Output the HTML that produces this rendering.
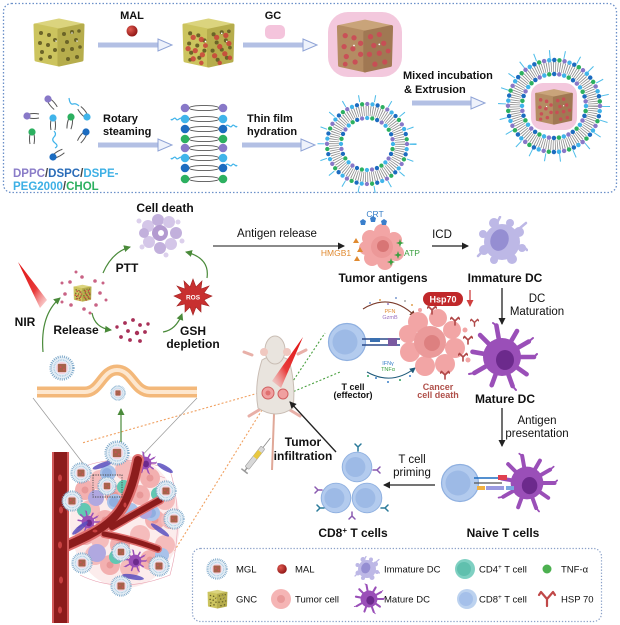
<!DOCTYPE html>
<html><head><meta charset="utf-8"><style>
html,body{margin:0;padding:0;background:#fff;}
svg{display:block;}
text{font-family:"Liberation Sans",Arial,sans-serif;fill:#111;}
.b{font-weight:bold;}
</style></head><body>
<svg width="620" height="625" viewBox="0 0 620 625" xmlns="http://www.w3.org/2000/svg">
<defs>
 <marker id="ak" markerWidth="8" markerHeight="8" refX="6" refY="4" orient="auto" markerUnits="userSpaceOnUse"><path d="M0,0.5 L7,4 L0,7.5 Z" fill="#222"/></marker>
 <marker id="ag" markerWidth="8" markerHeight="8" refX="6" refY="4" orient="auto" markerUnits="userSpaceOnUse"><path d="M0,0.5 L7,4 L0,7.5 Z" fill="#4a8a3a"/></marker>
 <marker id="ar" markerWidth="8" markerHeight="8" refX="6" refY="4" orient="auto" markerUnits="userSpaceOnUse"><path d="M0,0.5 L7,4 L0,7.5 Z" fill="#d04040"/></marker>
 <marker id="abr" markerWidth="7" markerHeight="7" refX="5" refY="3.5" orient="auto" markerUnits="userSpaceOnUse"><path d="M0,0.5 L6,3.5 L0,6.5 Z" fill="#7a3a2a"/></marker>
 <marker id="atl" markerWidth="7" markerHeight="7" refX="5" refY="3.5" orient="auto" markerUnits="userSpaceOnUse"><path d="M0,0.5 L6,3.5 L0,6.5 Z" fill="#1f5a7a"/></marker>
 <linearGradient id="beam1" x1="0" y1="0" x2="1" y2="1"><stop offset="0" stop-color="#e01010"/><stop offset="0.6" stop-color="#e83a3a"/><stop offset="1" stop-color="#f7b0b0" stop-opacity="0.4"/></linearGradient>
 <linearGradient id="beam2" x1="1" y1="0" x2="0" y2="1"><stop offset="0" stop-color="#e01010"/><stop offset="0.6" stop-color="#e83a3a"/><stop offset="1" stop-color="#f7b0b0" stop-opacity="0.3"/></linearGradient>
 <radialGradient id="redball" cx="0.35" cy="0.35" r="0.7"><stop offset="0" stop-color="#e05a50"/><stop offset="1" stop-color="#8e1414"/></radialGradient>

 <symbol id="cubeY" viewBox="0 0 54 50">
  <g stroke-linejoin="round" stroke-width="3">
   <polygon points="3,8 27,3 51,8 27,13" fill="#dbd47e" stroke="#dbd47e"/>
   <polygon points="3,8 27,13 27,48 4,43" fill="#ccc45e" stroke="#ccc45e"/>
   <polygon points="27,13 51,8 50,43 27,48" fill="#b6ad4c" stroke="#b6ad4c"/>
  </g>
  <g fill="#6b6428">
   <circle cx="9" cy="16" r="2"/><circle cx="17" cy="18" r="2"/><circle cx="23" cy="23" r="2"/><circle cx="8" cy="26" r="2"/><circle cx="16" cy="28" r="2"/><circle cx="23" cy="33" r="2"/><circle cx="10" cy="35" r="2"/><circle cx="18" cy="40" r="2"/><circle cx="9" cy="42" r="1.8"/>
   <circle cx="32" cy="17" r="2"/><circle cx="40" cy="15" r="2"/><circle cx="47" cy="14" r="1.8"/><circle cx="35" cy="25" r="2"/><circle cx="44" cy="23" r="2"/><circle cx="31" cy="33" r="2"/><circle cx="40" cy="32" r="2"/><circle cx="48" cy="30" r="1.8"/><circle cx="36" cy="42" r="2"/><circle cx="45" cy="40" r="2"/>
  </g>
  <g fill="#fff"><circle cx="24" cy="24" r="0.8"/><circle cx="40" cy="16" r="0.8"/><circle cx="45" cy="24" r="0.8"/></g>
 </symbol>

 <symbol id="cubeM" viewBox="0 0 54 50">
  <use href="#cubeY" x="0" y="0" width="54" height="50"/>
  <g fill="#c9413a" opacity="0.85">
   <circle cx="12" cy="20" r="2.6"/><circle cx="20" cy="22" r="2.6"/><circle cx="7" cy="31" r="2.6"/><circle cx="14" cy="33" r="2.6"/><circle cx="21" cy="37" r="2.6"/><circle cx="12" cy="41" r="2.6"/><circle cx="24" cy="28" r="2.4"/><circle cx="20" cy="45" r="2.2"/>
   <circle cx="35" cy="20" r="2.6"/><circle cx="44" cy="18" r="2.6"/><circle cx="38" cy="29" r="2.6"/><circle cx="47" cy="26" r="2.6"/><circle cx="33" cy="38" r="2.6"/><circle cx="43" cy="36" r="2.6"/><circle cx="48" cy="40" r="2.2"/><circle cx="38" cy="45" r="2.2"/>
  </g>
 </symbol>

 <symbol id="cubeB" viewBox="0 0 54 50">
  <g stroke-linejoin="round" stroke-width="3">
   <polygon points="3,8 27,3 51,8 27,13" fill="#c9a47a" stroke="#c9a47a"/>
   <polygon points="3,8 27,13 27,48 4,43" fill="#b48c63" stroke="#b48c63"/>
   <polygon points="27,13 51,8 50,43 27,48" fill="#a07853" stroke="#a07853"/>
  </g>
  <g fill="#cc4a56" opacity="0.9">
   <circle cx="9" cy="16" r="2.4"/><circle cx="17" cy="18" r="2.4"/><circle cx="23" cy="23" r="2.4"/><circle cx="8" cy="26" r="2.4"/><circle cx="16" cy="28" r="2.4"/><circle cx="23" cy="33" r="2.4"/><circle cx="10" cy="35" r="2.4"/><circle cx="18" cy="40" r="2.4"/><circle cx="9" cy="42" r="2.2"/>
   <circle cx="32" cy="17" r="2.4"/><circle cx="40" cy="15" r="2.4"/><circle cx="35" cy="25" r="2.4"/><circle cx="44" cy="23" r="2.4"/><circle cx="31" cy="33" r="2.4"/><circle cx="40" cy="32" r="2.4"/><circle cx="48" cy="30" r="2.2"/><circle cx="36" cy="42" r="2.4"/><circle cx="45" cy="40" r="2.4"/>
  </g>
  <g fill="#fff"><circle cx="17" cy="25" r="0.8"/><circle cx="40" cy="24" r="0.8"/></g>
 </symbol>

 <symbol id="mgl" viewBox="-14 -14 28 28">
  <circle r="12.3" fill="#e3edf5" stroke="#7aa6c8" stroke-width="2.6" stroke-dasharray="1 1.3"/>
  <circle r="8.6" fill="none" stroke="#9cc0dc" stroke-width="1.4" stroke-dasharray="0.8 1"/>
  <circle r="6.6" fill="#f5d3df"/>
  <rect x="-4.5" y="-4.5" width="9" height="9" rx="1" fill="#a5634a"/>
  <circle cx="-1.5" cy="-1" r="1" fill="#d0505a"/><circle cx="2" cy="1.5" r="1" fill="#d0505a"/>
 </symbol>

 <symbol id="imDC" viewBox="-26 -26 52 52">
  <g fill="#bdb8e6">
   <circle r="18"/>
   <circle cx="17" cy="-10" r="5"/><circle cx="20" cy="6" r="4"/><circle cx="10" cy="17" r="5"/><circle cx="-8" cy="18" r="4"/><circle cx="-18" cy="8" r="5"/><circle cx="-19" cy="-8" r="4"/><circle cx="-8" cy="-19" r="5"/><circle cx="8" cy="-19" r="4"/>
  </g>
  <g stroke="#bdb8e6" stroke-width="2.5" stroke-linecap="round"><line x1="18" y1="-14" x2="24" y2="-19"/><line x1="21" y1="4" x2="25" y2="8"/><line x1="-20" y1="10" x2="-24" y2="14"/><line x1="-4" y1="-21" x2="-2" y2="-25"/></g>
  <ellipse cx="-3" cy="-1" rx="9" ry="11" fill="#958ed2" transform="rotate(20)"/>
 </symbol>

 <symbol id="mDC" viewBox="-36 -36 72 72">
  <g stroke="#9a4fb8" stroke-width="4.6" stroke-linecap="round">
   <line x1="0" y1="0" x2="32" y2="0"/><line x1="0" y1="0" x2="24.6" y2="17.2"/><line x1="0" y1="0" x2="10.6" y2="29.1"/><line x1="0" y1="0" x2="-10.3" y2="28.2"/><line x1="0" y1="0" x2="-27.7" y2="16"/><line x1="0" y1="0" x2="-29.5" y2="-5.2"/><line x1="0" y1="0" x2="-21.9" y2="-21.9"/><line x1="0" y1="0" x2="-5.6" y2="-31.5"/><line x1="0" y1="0" x2="15" y2="-26"/><line x1="0" y1="0" x2="26.8" y2="-15.5"/>
  </g>
  <g stroke="#9a4fb8" stroke-width="2" stroke-linecap="round">
   <line x1="32" y1="0" x2="35" y2="-3"/><line x1="10.6" y1="29.1" x2="14" y2="33"/><line x1="-27.7" y1="16" x2="-33" y2="17"/><line x1="-5.6" y1="-31.5" x2="-9" y2="-34"/><line x1="26.8" y1="-15.5" x2="31" y2="-19"/>
  </g>
  <circle r="19" fill="#9a4fb8"/>
  <ellipse cx="3" cy="3" rx="9" ry="10" fill="#6c2a8c"/>
 </symbol>

 <symbol id="tcell" viewBox="-20 -20 40 40">
  <circle r="18.5" fill="#b3cbee" stroke="#8fb0e0" stroke-width="1.2"/>
  <circle cx="-2" r="12.5" fill="#9dbae6"/>
 </symbol>

 <symbol id="hsp" viewBox="-5 -9 10 10">
  <path d="M0,0 L0,-4 M0,-4 L-3.5,-7.5 M0,-4 L3.5,-7.5 M-3.5,-7.5 L-4.5,-6 M3.5,-7.5 L4.5,-6" stroke="#b04848" stroke-width="1.6" fill="none" stroke-linecap="round"/>
 </symbol>
</defs>

<rect width="620" height="625" fill="#fff"/>

<!-- ================= TOP BOX ================= -->
<rect x="3.5" y="3.5" width="613" height="189" rx="8" fill="none" stroke="#6a8fc8" stroke-width="1.3" stroke-dasharray="1.5 2"/>

<g>
 <rect x="98" y="42.5" width="60" height="5" fill="#b3c0e4"/><polygon points="158,39 172,45 158,51" fill="#eef2fb" stroke="#8fa3d6" stroke-width="1"/>
 <rect x="243" y="42.5" width="60" height="5" fill="#b3c0e4"/><polygon points="303,39 317,45 303,51" fill="#eef2fb" stroke="#8fa3d6" stroke-width="1"/>
 <rect x="98" y="142.5" width="60" height="5" fill="#b3c0e4"/><polygon points="158,139 172,145 158,151" fill="#eef2fb" stroke="#8fa3d6" stroke-width="1"/>
 <rect x="242" y="142.5" width="59" height="5" fill="#b3c0e4"/><polygon points="301,139 315,145 301,151" fill="#eef2fb" stroke="#8fa3d6" stroke-width="1"/>
 <rect x="412" y="100.5" width="59" height="5" fill="#b3c0e4"/><polygon points="471,97 485,103 471,109" fill="#eef2fb" stroke="#8fa3d6" stroke-width="1"/>
</g>

<use href="#cubeY" x="32" y="17" width="54" height="50"/>
<text x="132" y="19" text-anchor="middle" class="b" font-size="11">MAL</text>
<circle cx="132" cy="31" r="5.5" fill="url(#redball)"/>
<use href="#cubeM" x="180" y="17" width="57" height="51"/>
<text x="273" y="19" text-anchor="middle" class="b" font-size="11">GC</text>
<rect x="265" y="25" width="20" height="14" rx="5" fill="#f4c4dc"/>
<rect x="328" y="12" width="74" height="65" rx="20" fill="#f3c8dd"/>
<use href="#cubeB" x="335" y="18" width="60" height="55"/>

<text x="403" y="79" class="b" font-size="11">Mixed incubation</text>
<text x="404" y="93" class="b" font-size="11">&amp; Extrusion</text>

<g stroke="#555" stroke-width="1" fill="none">
 <g transform="translate(48,99) rotate(-40)"><path d="M-2,2 Q-3,7 -2,12 M2,2 Q3,7 2,12"/></g>
 <g transform="translate(27,116) rotate(-90)"><path d="M-2,2 Q-3,7 -2,12 M2,2 Q3,7 2,12"/></g>
 <g transform="translate(53,118) rotate(0)"><path d="M-2,2 Q-3,7 -2,12 M2,2 Q3,7 2,12"/></g>
 <g transform="translate(71,117) rotate(10)"><path d="M-2,2 Q-3,7 -2,12 M2,2 Q3,7 2,12"/></g>
 <g transform="translate(87,117) rotate(140)"><path d="M-2,2 Q-3,7 -2,12 M2,2 Q3,7 2,12"/></g>
 <g transform="translate(32,132) rotate(0)"><path d="M-2,2 Q-3,7 -2,12 M2,2 Q3,7 2,12"/></g>
 <g transform="translate(86,132) rotate(35)"><path d="M-2,2 Q-3,7 -2,12 M2,2 Q3,7 2,12"/></g>
 <g transform="translate(53,157) rotate(-120)"><path d="M-2,2 Q-3,7 -2,12 M2,2 Q3,7 2,12"/></g>
</g>
<g stroke="#40b4ea" stroke-width="1.2" fill="none">
 <path d="M54,131 q3,3 0,6 t1,6 t0,5"/>
 <path d="M79,106 q-3,-3 -6,-2 t-4,-6"/>
</g>
<g>
 <circle cx="48" cy="99" r="3.6" fill="#8878c8"/><circle cx="27" cy="116" r="3.6" fill="#8878c8"/>
 <circle cx="53" cy="118" r="3.6" fill="#40b4ea"/><circle cx="71" cy="117" r="3.6" fill="#2cb060"/>
 <circle cx="87" cy="117" r="3.6" fill="#40b4ea"/><circle cx="32" cy="132" r="3.6" fill="#2cb060"/>
 <circle cx="86" cy="132" r="3.6" fill="#1c6cc0"/><circle cx="53" cy="157" r="3.6" fill="#1c6cc0"/>
</g>
<text x="13" y="177" class="b" font-size="11.5"><tspan style="fill:#8a7cc8">DPPC</tspan><tspan style="fill:#444">/</tspan><tspan style="fill:#2a6cb8">DSPC</tspan><tspan style="fill:#444">/</tspan><tspan style="fill:#3db0e5">DSPE-</tspan></text>
<text x="13" y="190" class="b" font-size="11.5"><tspan style="fill:#3db0e5">PEG2000</tspan><tspan style="fill:#444">/</tspan><tspan style="fill:#2db060">CHOL</tspan></text>

<text x="103" y="122" class="b" font-size="11">Rotary</text>
<text x="103" y="135" class="b" font-size="11">steaming</text>
<text x="247" y="122" class="b" font-size="11">Thin film</text>
<text x="247" y="135" class="b" font-size="11">hydration</text>

<g fill="none" stroke="#555" stroke-width="0.9">
 <ellipse cx="204" cy="108" rx="15" ry="2.6"/><ellipse cx="204" cy="119" rx="15" ry="2.6"/><ellipse cx="204" cy="129" rx="15" ry="2.6"/><ellipse cx="204" cy="139" rx="15" ry="2.6"/>
 <ellipse cx="204" cy="148" rx="15" ry="2.6"/><ellipse cx="204" cy="158" rx="15" ry="2.6"/><ellipse cx="204" cy="168" rx="15" ry="2.6"/><ellipse cx="204" cy="179" rx="15" ry="2.6"/>
</g>
<g stroke="#40b4ea" stroke-width="1.2" fill="none">
 <path d="M182,119 c-2,-3 -4,3 -6,0 s-4,3 -5,0"/><path d="M182,158 c-2,-3 -4,3 -6,0 s-4,3 -5,0"/>
 <path d="M226,126 c2,-3 4,3 6,0 s4,3 5,0"/><path d="M226,165 c2,-3 4,3 6,0 s4,3 5,0"/>
</g>
<g>
 <circle cx="185" cy="108" r="4.3" fill="#8878c8"/><circle cx="223" cy="108" r="4.3" fill="#8878c8"/>
 <circle cx="185" cy="119" r="4.3" fill="#40b4ea"/><circle cx="223" cy="119" r="4.3" fill="#40b4ea"/>
 <circle cx="185" cy="129" r="4.3" fill="#1c6cc0"/><circle cx="223" cy="129" r="4.3" fill="#1c6cc0"/>
 <circle cx="185" cy="139" r="4.3" fill="#2cb060"/><circle cx="223" cy="139" r="4.3" fill="#2cb060"/>
 <circle cx="185" cy="148" r="4.3" fill="#8878c8"/><circle cx="223" cy="148" r="4.3" fill="#8878c8"/>
 <circle cx="185" cy="158" r="4.3" fill="#40b4ea"/><circle cx="223" cy="158" r="4.3" fill="#40b4ea"/>
 <circle cx="185" cy="168" r="4.3" fill="#1c6cc0"/><circle cx="223" cy="168" r="4.3" fill="#1c6cc0"/>
 <circle cx="185" cy="179" r="4.3" fill="#2cb060"/><circle cx="223" cy="179" r="4.3" fill="#2cb060"/>
</g>

<!-- vesicle -->
<g transform="translate(367,144)" fill="none">
 <circle r="46" stroke="#4fbde9" stroke-width="7" stroke-dasharray="1 15"/>
 <circle r="33" stroke="#8c8c8c" stroke-width="10" stroke-dasharray="0.8 1.4"/>
 <g stroke-width="4.3" stroke-linecap="round">
  <circle r="40" stroke="#8878c8" stroke-dasharray="0 20.944"/>
  <circle r="40" stroke="#40b4ea" stroke-dasharray="0 20.944" stroke-dashoffset="-5.236"/>
  <circle r="40" stroke="#1c6cc0" stroke-dasharray="0 20.944" stroke-dashoffset="-10.472"/>
  <circle r="40" stroke="#2cb060" stroke-dasharray="0 20.944" stroke-dashoffset="-15.708"/>
  <circle r="26" stroke="#40b4ea" stroke-dasharray="0 20.42"/>
  <circle r="26" stroke="#2cb060" stroke-dasharray="0 20.42" stroke-dashoffset="-5.105"/>
  <circle r="26" stroke="#1c6cc0" stroke-dasharray="0 20.42" stroke-dashoffset="-10.21"/>
  <circle r="26" stroke="#8878c8" stroke-dasharray="0 20.42" stroke-dashoffset="-15.315"/>
 </g>
</g>

<!-- final MGL -->
<g transform="translate(554,106)" fill="none">
 <circle r="52" stroke="#4fbde9" stroke-width="8" stroke-dasharray="1 14"/>
 <circle r="39" stroke="#8c8c8c" stroke-width="10" stroke-dasharray="0.8 1.4"/>
 <g stroke-width="4.5" stroke-linecap="round">
  <circle r="46" stroke="#8878c8" stroke-dasharray="0 20.645"/>
  <circle r="46" stroke="#40b4ea" stroke-dasharray="0 20.645" stroke-dashoffset="-5.161"/>
  <circle r="46" stroke="#1c6cc0" stroke-dasharray="0 20.645" stroke-dashoffset="-10.322"/>
  <circle r="46" stroke="#2cb060" stroke-dasharray="0 20.645" stroke-dashoffset="-15.483"/>
  <circle r="32" stroke="#40b4ea" stroke-dasharray="0 20.106"/>
  <circle r="32" stroke="#2cb060" stroke-dasharray="0 20.106" stroke-dashoffset="-5.027"/>
  <circle r="32" stroke="#1c6cc0" stroke-dasharray="0 20.106" stroke-dashoffset="-10.053"/>
  <circle r="32" stroke="#8878c8" stroke-dasharray="0 20.106" stroke-dashoffset="-15.08"/>
 </g>
</g>
<rect x="531" y="83" width="46" height="47" rx="12" fill="#f3c8dd"/>
<use href="#cubeB" x="534" y="87" width="40" height="39"/>

<!-- ================= MIDDLE / BOTTOM ================= -->
<g fill="none" stroke-width="1.1" stroke-dasharray="2 2">
 <line x1="262" y1="392" x2="82" y2="443" stroke="#f0a060"/>
 <line x1="262" y1="410" x2="173" y2="553" stroke="#f0a060"/>
 <line x1="287" y1="390" x2="325" y2="333" stroke="#4aa040"/>
 <line x1="290" y1="393" x2="340" y2="372" stroke="#4aa040"/>
</g>

<text x="165" y="212" text-anchor="middle" class="b" font-size="12">Cell death</text>
<g>
 <circle cx="148" cy="226" r="6" fill="#d4c6e8"/><circle cx="158" cy="220" r="6" fill="#c2b0dc"/><circle cx="169" cy="222" r="6" fill="#d4c6e8"/><circle cx="176" cy="233" r="6" fill="#c2b0dc"/><circle cx="171" cy="244" r="6" fill="#d4c6e8"/><circle cx="160" cy="248" r="6" fill="#c2b0dc"/><circle cx="149" cy="242" r="6" fill="#d4c6e8"/><circle cx="144" cy="233" r="5" fill="#c2b0dc"/>
 <circle cx="160" cy="233" r="8" fill="#b39ad0"/><circle cx="161" cy="233" r="3" fill="#fff"/>
 <circle cx="139" cy="221" r="2.5" fill="#dcd0ec"/><circle cx="182" cy="241" r="2.5" fill="#dcd0ec"/><circle cx="166" cy="255" r="2.5" fill="#dcd0ec"/><circle cx="178" cy="222" r="2.5" fill="#dcd0ec"/><circle cx="142" cy="247" r="2.5" fill="#dcd0ec"/>
</g>

<line x1="213" y1="246" x2="344" y2="246" stroke="#444" stroke-width="1.3" marker-end="url(#ak)"/>
<text x="277" y="237" text-anchor="middle" font-size="11.5">Antigen release</text>

<g>
 <circle cx="370" cy="238" r="8" fill="#f2a5a5"/><circle cx="382" cy="232" r="8" fill="#f2a5a5"/><circle cx="394" cy="240" r="8" fill="#f2a5a5"/><circle cx="396" cy="253" r="8" fill="#f2a5a5"/><circle cx="385" cy="262" r="8" fill="#f2a5a5"/><circle cx="372" cy="258" r="8" fill="#f2a5a5"/><circle cx="366" cy="248" r="7" fill="#f2a5a5"/>
 <circle cx="382" cy="247" r="11" fill="#ec9898"/><circle cx="383" cy="246" r="6" fill="#d87575"/>
 <polygon points="363,219 366,221 365,225 361,225 360,221" fill="#3a7fcc"/><polygon points="373,216 376,218 375,222 371,222 370,218" fill="#3a7fcc"/><polygon points="384,219 387,221 386,225 382,225 381,221" fill="#3a7fcc"/>
 <polygon points="356,238 359,243 353,243" fill="#e08a30"/><polygon points="360,247 363,252 357,252" fill="#e08a30"/><polygon points="357,256 360,261 354,261" fill="#e08a30"/>
 <path d="M400,239 l1,3 3,1 -3,1 -1,3 -1,-3 -3,-1 3,-1z" fill="#3aa040"/><path d="M398,251 l1,3 3,1 -3,1 -1,3 -1,-3 -3,-1 3,-1z" fill="#3aa040"/><path d="M391,258 l1,3 3,1 -3,1 -1,3 -1,-3 -3,-1 3,-1z" fill="#3aa040"/>
</g>
<text x="375" y="217" text-anchor="middle" font-size="8.5" style="fill:#3a80c8">CRT</text>
<text x="336" y="256" text-anchor="middle" font-size="8.5" style="fill:#e08a30">HMGB1</text>
<text x="412" y="256" text-anchor="middle" font-size="8.5" style="fill:#3aa040">ATP</text>
<text x="383" y="282" text-anchor="middle" class="b" font-size="12">Tumor antigens</text>

<line x1="432" y1="246" x2="468" y2="246" stroke="#222" stroke-width="1.3" marker-end="url(#ak)"/>
<text x="442" y="238" text-anchor="middle" font-size="11.5">ICD</text>

<use href="#imDC" x="476" y="216" width="52" height="52"/>
<text x="505" y="282" text-anchor="middle" class="b" font-size="12">Immature DC</text>
<line x1="502" y1="288" x2="502" y2="324" stroke="#222" stroke-width="1.3" marker-end="url(#ak)"/>
<text x="537" y="302" text-anchor="middle" font-size="11.5">DC</text>
<text x="537" y="315" text-anchor="middle" font-size="11.5">Maturation</text>

<use href="#mDC" x="466" y="321" width="72" height="72"/>
<text x="505" y="403" text-anchor="middle" class="b" font-size="12">Mature DC</text>
<line x1="502" y1="408" x2="502" y2="446" stroke="#222" stroke-width="1.3" marker-end="url(#ak)"/>
<text x="537" y="424" text-anchor="middle" font-size="11.5">Antigen</text>
<text x="537" y="437" text-anchor="middle" font-size="11.5">presentation</text>

<g>
 <circle cx="370" cy="303" r="1" fill="#7a9ad0"/><circle cx="380" cy="300" r="1" fill="#e0a050"/><circle cx="396" cy="298" r="1" fill="#7a9ad0"/><circle cx="405" cy="301" r="1" fill="#aaa"/><circle cx="412" cy="305" r="1" fill="#e0a050"/><circle cx="388" cy="304" r="1" fill="#9a80c0"/>
 <circle cx="376" cy="378" r="1" fill="#3a80c8"/><circle cx="388" cy="382" r="1" fill="#3a80c8"/><circle cx="400" cy="380" r="1" fill="#2aa060"/><circle cx="410" cy="376" r="1" fill="#3a80c8"/><circle cx="368" cy="376" r="1" fill="#2aa060"/>
</g>
<path d="M363,309 Q390,292 415,316" fill="none" stroke="#7a3a2a" stroke-width="1.1" marker-end="url(#abr)"/>
<path d="M367,372 Q392,386 415,368" fill="none" stroke="#1f5a7a" stroke-width="1.1" marker-end="url(#atl)"/>
<text x="390" y="313" text-anchor="middle" font-size="5.5" style="fill:#e08a30">PFN</text>
<text x="390" y="319" text-anchor="middle" font-size="5.5" style="fill:#9a70c0">GzmB</text>
<text x="388" y="365" text-anchor="middle" font-size="5.5" style="fill:#3a80c8">IFNγ</text>
<text x="388" y="371" text-anchor="middle" font-size="5.5" style="fill:#3aa040">TNFα</text>

<g>
 <circle cx="418" cy="322" r="10" fill="#f2a5a5"/><circle cx="438" cy="318" r="9" fill="#f2a5a5"/><circle cx="452" cy="330" r="9" fill="#f2a5a5"/><circle cx="455" cy="348" r="10" fill="#f2a5a5"/><circle cx="445" cy="364" r="10" fill="#f2a5a5"/><circle cx="425" cy="366" r="10" fill="#f2a5a5"/><circle cx="410" cy="352" r="10" fill="#f2a5a5"/><circle cx="408" cy="334" r="9" fill="#f2a5a5"/>
 <circle cx="430" cy="342" r="16" fill="#eb9a9a"/><circle cx="432" cy="343" r="8" fill="#dd8080"/>
 <circle cx="465" cy="330" r="2.5" fill="#f2a5a5"/><circle cx="468" cy="360" r="2.5" fill="#f2a5a5"/><circle cx="420" cy="310" r="2" fill="#f2a5a5"/>
</g>
<use href="#hsp" x="427" y="305" width="10" height="10"/><use href="#hsp" x="450" y="316" width="10" height="10"/><use href="#hsp" x="463" y="335" width="10" height="10"/><use href="#hsp" x="458" y="352" width="10" height="10"/><use href="#hsp" x="440" y="370" width="10" height="10"/><use href="#hsp" x="470" y="318" width="9" height="9"/>

<use href="#tcell" x="327" y="322" width="40" height="40"/>
<g>
 <line x1="362" y1="339" x2="400" y2="339" stroke="#2a4a8a" stroke-width="1.4"/>
 <line x1="362" y1="345" x2="400" y2="345" stroke="#2a4a8a" stroke-width="1.4"/>
 <rect x="370" y="338" width="10" height="4" fill="#3a70b0"/>
 <rect x="388" y="338" width="9" height="8" fill="#7a5aa0"/>
</g>
<text x="353" y="390" text-anchor="middle" class="b" font-size="9">T cell</text>
<text x="353" y="398" text-anchor="middle" class="b" font-size="9">(effector)</text>
<text x="438" y="390" text-anchor="middle" class="b" font-size="9" style="fill:#b0504a">Cancer</text>
<text x="438" y="398" text-anchor="middle" class="b" font-size="9" style="fill:#b0504a">cell death</text>

<rect x="423" y="292" width="40" height="14" rx="7" fill="#c0282a"/>
<text x="443" y="302.5" text-anchor="middle" class="b" font-size="9" style="fill:#fff">Hsp70</text>
<line x1="470" y1="290" x2="470" y2="306" stroke="#d04040" stroke-width="1.3" marker-end="url(#ar)"/>

<use href="#mDC" x="496" y="452" width="62" height="62"/>
<use href="#tcell" x="440" y="463" width="40" height="40"/>
<g>
 <line x1="474" y1="478" x2="506" y2="478" stroke="#1c6cc0" stroke-width="1.5"/>
 <rect x="498" y="475" width="9" height="5" fill="#e04050"/>
 <line x1="474" y1="483" x2="502" y2="483" stroke="#555" stroke-width="1.2"/>
 <rect x="477" y="486" width="8" height="4" fill="#f0b040"/>
 <rect x="486" y="486" width="18" height="4" fill="#9a9ae0"/>
 <rect x="506" y="486" width="8" height="4" fill="#7aa8e0"/>
</g>
<text x="503" y="537" text-anchor="middle" class="b" font-size="12">Naive T cells</text>

<line x1="435" y1="485" x2="384" y2="485" stroke="#222" stroke-width="1.3" marker-end="url(#ak)"/>
<text x="412" y="463" text-anchor="middle" font-size="11.5">T cell</text>
<text x="412" y="476" text-anchor="middle" font-size="11.5">priming</text>

<use href="#tcell" x="341" y="451" width="32" height="32"/>
<use href="#tcell" x="320" y="482" width="32" height="32"/>
<use href="#tcell" x="351" y="482" width="32" height="32"/>
<g stroke-width="1.5" fill="none" stroke-linecap="round">
 <path d="M358,451 v-4 m0,0 l-3,-3 m3,3 l3,-3" stroke="#2a7a9a"/>
 <path d="M373,470 h4 m0,0 l3,-3 m-3,3 l3,3" stroke="#8a5ab0"/>
 <path d="M322,490 h-4 m0,0 l-3,-3 m3,3 l-3,3" stroke="#8a5ab0"/>
 <path d="M324,508 h-4 m0,0 l-3,-3 m3,3 l-3,3" stroke="#2a7a9a"/>
 <path d="M352,512 v4 m0,0 l-3,3 m3,-3 l3,3" stroke="#8a5ab0"/>
 <path d="M381,508 h4 m0,0 l3,-3 m-3,3 l3,3" stroke="#2a7a9a"/>
</g>
<text x="353" y="537" text-anchor="middle" class="b" font-size="12">CD8<tspan font-size="8" dy="-4">+</tspan><tspan dy="4"> T cells</tspan></text>

<!-- mouse -->
<g>
 <path d="M244,352 l8,3 M306,350 l-8,4" stroke="#e8b0a8" stroke-width="3" stroke-linecap="round"/>
 <path d="M249,416 l10,-6 M300,416 l-10,-6" stroke="#e8b0a8" stroke-width="3" stroke-linecap="round"/>
 <line x1="274" y1="414" x2="272" y2="470" stroke="#e0a898" stroke-width="2"/>
 <path d="M262,360 Q275,352 289,360 Q296,385 293,408 Q276,420 258,408 Q254,385 262,360 Z" fill="#e9e4de" stroke="#c9bdb4" stroke-width="1"/>
 <ellipse cx="275" cy="350" rx="10" ry="14" fill="#e9e4de" stroke="#c9bdb4" stroke-width="1"/>
 <circle cx="264" cy="352" r="4" fill="#f0c8c0"/><circle cx="287" cy="352" r="4" fill="#f0c8c0"/>
 <circle cx="268" cy="393" r="6" fill="#f0a0a0" stroke="#d06060" stroke-width="1"/><circle cx="268" cy="393" r="2.5" fill="#e07070"/>
 <circle cx="283" cy="394" r="5" fill="#f0a0a0" stroke="#d06060" stroke-width="1"/>
 <polygon points="303,337 281,388 272,381" fill="url(#beam2)"/>
</g>
<g transform="translate(247,468) rotate(-52)">
 <rect x="0" y="-2.5" width="26" height="5" rx="1" fill="#d8d8d8" stroke="#999" stroke-width="0.6"/>
 <rect x="13" y="-2.5" width="8" height="5" fill="#e8c840"/>
 <line x1="26" y1="0" x2="38" y2="0" stroke="#888" stroke-width="0.8"/>
 <line x1="-4" y1="-4" x2="-4" y2="4" stroke="#999" stroke-width="1.5"/>
 <line x1="-4" y1="0" x2="0" y2="0" stroke="#999" stroke-width="1.5"/>
</g>
<line x1="336" y1="452" x2="290" y2="402" stroke="#222" stroke-width="1.3" marker-end="url(#ak)"/>
<text x="303" y="446" text-anchor="middle" class="b" font-size="12">Tumor</text>
<text x="303" y="460" text-anchor="middle" class="b" font-size="12">infiltration</text>

<!-- left cycle -->
<polygon points="18,262 47,300 40,308" fill="url(#beam1)"/>
<text x="25" y="326" text-anchor="middle" class="b" font-size="12">NIR</text>
<g fill="none" stroke="#4a8a3a" stroke-width="1.2">
 <path d="M43,352 Q40,315 60,298" marker-end="url(#ag)"/>
 <path d="M103,273 Q112,252 130,247" marker-end="url(#ag)"/>
 <path d="M92,313 Q95,328 111,330" marker-end="url(#ag)"/>
 <path d="M163,332 Q176,330 182,314" marker-end="url(#ag)"/>
 <path d="M207,278 Q210,258 186,252" marker-end="url(#ag)"/>
 <path d="M121,442 L121,409" marker-end="url(#ag)"/>
</g>
<text x="127" y="272" text-anchor="middle" class="b" font-size="12">PTT</text>
<g fill="#c04870" opacity="0.85">
 <circle cx="70" cy="282" r="1.8"/><circle cx="82" cy="277" r="1.8"/><circle cx="95" cy="281" r="1.8"/><circle cx="100" cy="293" r="1.8"/><circle cx="96" cy="305" r="1.8"/><circle cx="84" cy="309" r="1.8"/><circle cx="71" cy="305" r="1.8"/><circle cx="65" cy="294" r="1.8"/>
 <circle cx="62" cy="283" r="1.5"/><circle cx="103" cy="283" r="1.5"/><circle cx="106" cy="300" r="1.5"/><circle cx="62" cy="302" r="1.5"/><circle cx="76" cy="272" r="1.5"/><circle cx="90" cy="313" r="1.5"/>
</g>
<use href="#cubeM" x="73" y="284" width="19" height="18"/>
<text x="76" y="334" text-anchor="middle" class="b" font-size="12">Release</text>
<g fill="#a83058">
 <circle cx="125" cy="323" r="1.9"/><circle cx="133" cy="320" r="1.9"/><circle cx="140" cy="325" r="1.9"/><circle cx="128" cy="331" r="1.9"/><circle cx="137" cy="333" r="2.2"/><circle cx="145" cy="332" r="1.9"/><circle cx="121" cy="337" r="1.9"/><circle cx="130" cy="340" r="1.9"/><circle cx="140" cy="341" r="1.9"/><circle cx="117" cy="327" r="1.7"/><circle cx="148" cy="324" r="1.7"/>
</g>
<polygon points="193,279 196,287 202,281 201,289 209,286 204,293 212,296 204,300 209,306 201,304 201,312 196,307 193,315 190,307 185,312 185,304 177,306 182,300 174,296 182,293 177,286 185,289 184,281 190,287" fill="#c83030" stroke="#a02020" stroke-width="0.6"/>
<text x="193" y="299.5" text-anchor="middle" class="b" font-size="6.5" style="fill:#fff">ROS</text>
<text x="193" y="335" text-anchor="middle" class="b" font-size="12">GSH</text>
<text x="193" y="348" text-anchor="middle" class="b" font-size="12">depletion</text>

<use href="#mgl" x="49" y="355" width="26" height="26"/>
<path d="M37,392 L85,392 C100,392 102,370 117,370 C132,370 134,392 150,392 L197,392" fill="none" stroke="#f3b87a" stroke-width="11"/>
<path d="M37,392 L85,392 C100,392 102,370 117,370 C132,370 134,392 150,392 L197,392" fill="none" stroke="#fde7cf" stroke-width="4"/>
<use href="#mgl" x="110" y="385" width="16" height="16"/>
<line x1="33" y1="398" x2="92" y2="475" stroke="#999" stroke-width="0.7"/>
<line x1="197" y1="398" x2="133" y2="465" stroke="#999" stroke-width="0.7"/>

<!-- tumor tissue -->
<ellipse cx="125" cy="522" rx="55" ry="66" fill="#fcecec"/>
<g fill="none" stroke="#e8a0b0" stroke-width="0.6">
 <path d="M75,470 Q120,450 170,470 Q185,520 170,575 Q120,595 80,575"/>
 <path d="M80,480 Q125,462 165,478"/>
</g>
<g>
 <circle cx="85" cy="490" r="10" fill="#f3b0b0"/><circle cx="100" cy="480" r="10" fill="#f5bcbc"/><circle cx="115" cy="495" r="10" fill="#f3b0b0"/><circle cx="90" cy="510" r="10" fill="#f5bcbc"/><circle cx="105" cy="520" r="10" fill="#f3b0b0"/><circle cx="125" cy="470" r="10" fill="#f5bcbc"/><circle cx="150" cy="478" r="10" fill="#f3b0b0"/><circle cx="165" cy="500" r="10" fill="#f5bcbc"/><circle cx="155" cy="520" r="10" fill="#f3b0b0"/><circle cx="140" cy="535" r="10" fill="#f5bcbc"/><circle cx="120" cy="545" r="10" fill="#f3b0b0"/><circle cx="95" cy="555" r="10" fill="#f5bcbc"/><circle cx="110" cy="565" r="10" fill="#f3b0b0"/><circle cx="130" cy="568" r="10" fill="#f5bcbc"/><circle cx="150" cy="560" r="10" fill="#f3b0b0"/><circle cx="165" cy="545" r="10" fill="#f5bcbc"/><circle cx="85" cy="535" r="10" fill="#f3b0b0"/><circle cx="170" cy="520" r="9" fill="#f5bcbc"/><circle cx="140" cy="495" r="10" fill="#f3b0b0"/><circle cx="100" cy="540" r="9" fill="#f5bcbc"/>
 <g fill="#e89898"><circle cx="85" cy="490" r="3.5"/><circle cx="115" cy="495" r="3.5"/><circle cx="105" cy="520" r="3.5"/><circle cx="150" cy="478" r="3.5"/><circle cx="155" cy="520" r="3.5"/><circle cx="120" cy="545" r="3.5"/><circle cx="110" cy="565" r="3.5"/><circle cx="150" cy="560" r="3.5"/><circle cx="85" cy="535" r="3.5"/><circle cx="140" cy="495" r="3.5"/></g>
 <g fill="#a9c2ea"><circle cx="108" cy="473" r="8"/><circle cx="115" cy="502" r="8"/><circle cx="152" cy="513" r="8"/><circle cx="162" cy="555" r="7"/><circle cx="131" cy="510" r="7"/></g>
 <g fill="#90aee0"><circle cx="107" cy="473" r="5"/><circle cx="114" cy="502" r="5"/><circle cx="151" cy="513" r="5"/></g>
 <g fill="#62c8b2"><circle cx="124" cy="487" r="7"/><circle cx="84" cy="510" r="7"/><circle cx="158" cy="494" r="7"/><circle cx="116" cy="557" r="7"/></g>
 <g fill="#b0a8e0"><circle cx="96" cy="498" r="8"/><circle cx="97" cy="553" r="9"/><circle cx="145" cy="512" r="7"/></g>
</g>
<use href="#mDC" x="133" y="451" width="24" height="24"/>
<use href="#mDC" x="76" y="510" width="24" height="24"/>
<use href="#mDC" x="123" y="549" width="24" height="24"/>
<g fill="#5a50c0" opacity="0.85">
 <ellipse cx="103" cy="465" rx="11" ry="2.5" transform="rotate(-20 103 465)"/>
 <ellipse cx="160" cy="530" rx="11" ry="2.5" transform="rotate(35 160 530)"/>
 <ellipse cx="133" cy="577" rx="11" ry="2.5" transform="rotate(10 133 577)"/>
 <ellipse cx="80" cy="528" rx="10" ry="2.5" transform="rotate(-40 80 528)"/>
 <ellipse cx="165" cy="468" rx="9" ry="2.5" transform="rotate(30 165 468)"/>
</g>
<g fill="none" stroke-linecap="round">
 <path d="M66,546 C90,535 115,525 126,500 C133,485 136,470 138,460" stroke="#e07070" stroke-width="12"/>
 <path d="M112,527 C128,518 145,508 160,500" stroke="#e07070" stroke-width="9"/>
 <path d="M104,534 C120,537 140,542 158,549" stroke="#e07070" stroke-width="8"/>
 <path d="M66,546 C90,535 115,525 126,500 C133,485 136,470 138,460" stroke="#8c1c1c" stroke-width="8"/>
 <path d="M112,527 C128,518 145,508 160,500" stroke="#8c1c1c" stroke-width="6"/>
 <path d="M104,534 C120,537 140,542 158,549" stroke="#8c1c1c" stroke-width="5"/>
</g>
<rect x="52" y="452" width="17" height="171" fill="#d25a5a"/>
<rect x="54" y="452" width="13" height="171" fill="#8c1c1c"/>
<g fill="#c84040"><ellipse cx="60" cy="478" rx="2" ry="3.5"/><ellipse cx="61" cy="510" rx="2" ry="3.5"/><ellipse cx="60" cy="545" rx="2" ry="3.5"/><ellipse cx="61" cy="580" rx="2" ry="3.5"/><ellipse cx="60" cy="610" rx="2" ry="3.5"/><ellipse cx="95" cy="531" rx="2.5" ry="1.5"/><ellipse cx="125" cy="505" rx="1.5" ry="2.5"/></g>
<rect x="93" y="475" width="29" height="22" fill="none" stroke="#444" stroke-width="0.9" stroke-dasharray="1.2 1.2"/>
<use href="#mgl" x="104" y="440" width="26" height="26"/>
<use href="#mgl" x="70" y="462" width="22" height="22"/>
<use href="#mgl" x="61" y="490" width="22" height="22"/>
<use href="#mgl" x="97" y="476" width="20" height="20"/>
<use href="#mgl" x="155" y="480" width="22" height="22"/>
<use href="#mgl" x="163" y="508" width="22" height="22"/>
<use href="#mgl" x="148" y="555" width="22" height="22"/>
<use href="#mgl" x="110" y="575" width="22" height="22"/>
<use href="#mgl" x="111" y="542" width="20" height="20"/>
<use href="#mgl" x="71" y="552" width="22" height="22"/>

<!-- ================= LEGEND ================= -->
<rect x="192.5" y="548.5" width="409" height="73" rx="8" fill="none" stroke="#8aa0c8" stroke-width="1.2" stroke-dasharray="1.3 1.8"/>
<use href="#mgl" x="206" y="558" width="22" height="22"/>
<use href="#cubeY" x="207" y="589" width="21" height="20"/>
<circle cx="282" cy="569" r="4.8" fill="url(#redball)"/>
<circle cx="281" cy="599" r="10" fill="#f5b5b5"/><circle cx="281" cy="599" r="4" fill="#e99a9a"/>
<use href="#imDC" x="354" y="556" width="26" height="26"/>
<use href="#mDC" x="353" y="583" width="32" height="32"/>
<circle cx="465" cy="569" r="10" fill="#7fd0c2"/><circle cx="464" cy="569" r="7" fill="#60c0ae"/>
<circle cx="467" cy="599" r="10" fill="#bcd2ef"/><circle cx="466" cy="599" r="7" fill="#a5c0ea"/>
<circle cx="547" cy="569" r="4.5" fill="#4cb050"/>
<path d="M547,606 L547,599 M547,599 L541,592 M547,599 L553,592 M541,592 L539,595 M553,592 L555,595" stroke="#c04848" stroke-width="2.2" fill="none" stroke-linecap="round"/>
<g font-size="9.5">
 <text x="236" y="572.5">MGL</text>
 <text x="295" y="572.5">MAL</text>
 <text x="384" y="572.5">Immature DC</text>
 <text x="479" y="572.5">CD4<tspan font-size="6.5" dy="-3.5">+</tspan><tspan dy="3.5"> T cell</tspan></text>
 <text x="561" y="572.5">TNF-α</text>
 <text x="236" y="602.5">GNC</text>
 <text x="295" y="602.5">Tumor cell</text>
 <text x="384" y="602.5">Mature DC</text>
 <text x="479" y="602.5">CD8<tspan font-size="6.5" dy="-3.5">+</tspan><tspan dy="3.5"> T cell</tspan></text>
 <text x="561" y="602.5">HSP 70</text>
</g>
</svg>
</body></html>
